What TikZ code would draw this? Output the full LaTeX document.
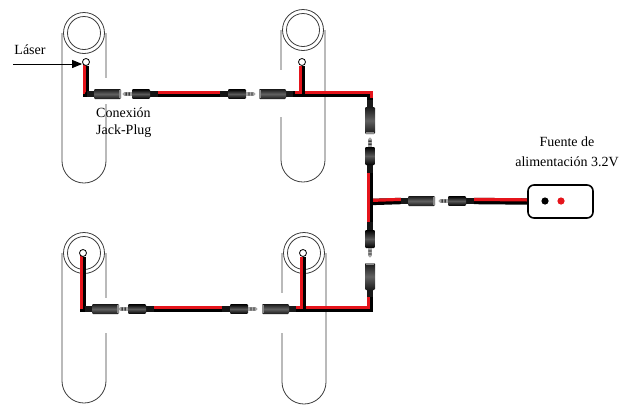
\documentclass[tikz,border=0pt]{standalone}
\usepackage{fontspec}
\setmainfont{Liberation Serif}
\usetikzlibrary{arrows.meta}

\definecolor{wirered}{HTML}{E5141B}
\definecolor{holderline}{HTML}{3C3C3C}

\pgfdeclarelayer{bg}
\pgfdeclarelayer{wires}
\pgfsetlayers{bg,wires,main}

\tikzset{
  outline/.style={draw=holderline, line width=0.8pt},
  hole/.style={circle, draw=black, line width=0.8pt, fill=white, minimum size=7pt, inner sep=0pt},
  blackwire/.style={draw=black, line width=6.4pt},
  redwire/.style={draw=wirered, line width=3.2pt},
  lbl/.style={font=\fontsize{14}{16.5}\selectfont, inner sep=0pt},
  psubox/.style={draw=black, line width=1.6pt, rounded corners=6pt, minimum width=65pt, minimum height=33pt, inner sep=0pt},
  % female jack: cable end at (-c), open end at (-o)
  pics/femalejack/.style={code={
    \fill[black!90] (-17,-3.2) rectangle (-9,3.2);
    \shade[top color=black!90, bottom color=black!90, middle color=black!62, rounded corners=1.2pt] (-10,-5) rectangle (17,5);
    \fill[black!45] (15,-4.4) rectangle (16.6,4.4);
    \coordinate (-c) at (-17,0);
    \coordinate (-o) at (17,0);
  }},
  % male plug: cable end at (-c), metal tip at (-t)
  pics/maleplug/.style={code={
    \fill[black!92] (-18,-3) rectangle (-10,3);
    \shade[top color=black, bottom color=black, middle color=black!65, rounded corners=1pt] (-10,-4.8) rectangle (8,4.8);
    \fill[black!35] (8,-1.7) rectangle (16,1.7);
    \fill[black!35] (16,0) circle (1.7pt);
    \fill[black] (10.5,-1.7) rectangle (11.3,1.7) (13.5,-1.7) rectangle (14.3,1.7);
    \coordinate (-c) at (-18,0);
    \coordinate (-t) at (17,0);
  }},
}

% two-core cable: black core on the path, red core shifted by (#1,#2) pt
\newcommand\twincable[3]{%
  \path[blackwire] #3;
  \path[redwire, transform canvas={xshift=#1pt, yshift=#2pt}] #3;}

% lamp holder outline: centre x, centre y of the head, centre y of the foot
\newcommand\lampholder[3]{%
  \draw[outline] (#1,#2) circle (20.5pt);
  \draw[outline] (#1,#2) circle (16.5pt);
  \draw[outline] (#1-22,#2) -- (#1-22,#3) arc[start angle=180, end angle=360, radius=22pt] -- (#1+22,#2);}

\begin{document}
\begin{tikzpicture}[x=1pt, y=-1pt]
  \useasboundingbox (0,0) rectangle (629,405);

  % holders
  \begin{pgfonlayer}{bg}
    \lampholder{84}{33}{161}
    \lampholder{303}{30}{160}
    \lampholder{84}{253}{381}
    \lampholder{304}{253}{382}
    \fill[white] (103,78) rectangle (109,104);
    \fill[white] (276,70) rectangle (284,117);
    \fill[white] (103,298) rectangle (110,333);
    \fill[white] (278,293) rectangle (285,333);
  \end{pgfonlayer}

  % laser holes
  \node[hole] (h1) at (86,62) {};
  \node[hole] (h2) at (302,62) {};
  \node[hole] (h3) at (83,253) {};
  \node[hole] (h4) at (303,253) {};

  % jack-plug connectors
  \pic (f1) at (104,94) {femalejack};
  \pic[rotate=180] (p1) at (140,94) {maleplug};
  \pic (p2) at (238,94) {maleplug};
  \pic[rotate=180] (f2) at (276,94) {femalejack};
  \pic[rotate=-90] (f3) at (370,117) {femalejack};
  \pic[rotate=90] (p3) at (370,155) {maleplug};
  \pic[rotate=-90] (p4) at (370,240) {maleplug};
  \pic[rotate=90] (f4) at (370,280) {femalejack};
  \pic[rotate=180] (f6) at (279,309) {femalejack};
  \pic (p6) at (240,309) {maleplug};
  \pic[rotate=180] (p7) at (136,309) {maleplug};
  \pic (f7) at (102,309) {femalejack};
  \pic (f5) at (418,201) {femalejack};
  \pic[rotate=180] (p5) at (456,201) {maleplug};

  % power supply
  \node[psubox] (psu) at (560.5,201.5) {};
  \fill[black] (545,201) circle (3.6pt);
  \fill[wirered] (561,201) circle (3.6pt);

  \coordinate (j1) at (302,94);
  \coordinate (c1) at (370,94);
  \coordinate (j2) at (370,202);
  \coordinate (c2) at (370,309);
  \coordinate (j4) at (303,309);

  % cables
  \begin{pgfonlayer}{wires}
    \twincable{-1.6}{1.6}{(h1.south) |- (f1-c)}
    \twincable{0}{1.6}{(p1-c) -- (p2-c)}
    \twincable{1.6}{1.6}{(f2-c) -- (c1) -- (f3-c)}
    \twincable{-1.6}{0}{(h2.south) -- (j1)}
    \twincable{0}{1.6}{(j2) -- (f5-c)}
    \twincable{-1.6}{0}{(p3-c) -- (p4-c)}
    \twincable{0}{1.6}{(p5-c) -- (psu.west)}
    \twincable{-1.6}{1.6}{(f4-c) -- (c2) -- (f6-c)}
    \twincable{-1.6}{0}{(h4.south) -- (j4)}
    \twincable{0}{1.6}{(p6-c) -- (p7-c)}
    \twincable{-1.6}{1.6}{(h3.south) |- (f7-c)}
  \end{pgfonlayer}

  % laser arrow
  \coordinate (lsrc) at (13,64);
  \draw[line width=0.9pt, -{Triangle[length=10pt, width=8pt]}] (lsrc) -- (lsrc -| h1.west);

  % labels
  \node[lbl] (tlaser) at (30,50) {Láser};
  \node[lbl, anchor=north west, align=left] (tjack) at (96,108) {Conexión\\Jack-Plug};
  \node[lbl, align=center, font=\fontsize{14}{20}\selectfont] (tpsu) at (567,152) {Fuente de\\alimentación 3.2V};
\end{tikzpicture}
\end{document}
